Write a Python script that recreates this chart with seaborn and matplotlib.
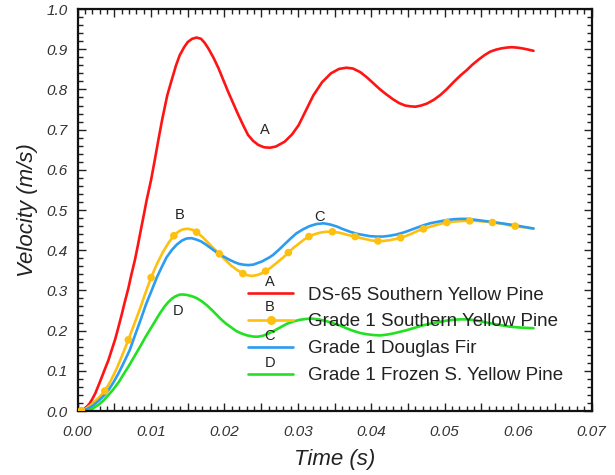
import numpy as np
import pandas as pd
import matplotlib
matplotlib.use("Agg")
import matplotlib.pyplot as plt
from matplotlib.ticker import MultipleLocator, FuncFormatter
from matplotlib.lines import Line2D
import seaborn as sns

# ---------------- data ----------------
t_a = [0.0000, 0.0004, 0.0008, 0.0012, 0.0016, 0.0020, 0.0024, 0.0028, 0.0033, 0.0037,
       0.0042, 0.0046, 0.0051, 0.0055, 0.0060, 0.0064, 0.0069, 0.0073, 0.0078, 0.0082,
       0.0086, 0.0090, 0.0094, 0.0100, 0.0105, 0.0110, 0.0115, 0.0122, 0.0128, 0.0134,
       0.0139, 0.0145, 0.0150, 0.0156, 0.0162, 0.0168, 0.0173, 0.0178, 0.0185, 0.0192,
       0.0205, 0.0219, 0.0226, 0.0232, 0.0239, 0.0246, 0.0254, 0.0262, 0.0270, 0.0282,
       0.0292, 0.0301, 0.0311, 0.0321, 0.0333, 0.0345, 0.0356, 0.0366, 0.0375, 0.0385,
       0.0394, 0.0403, 0.0412, 0.0421, 0.0430, 0.0438, 0.0446, 0.0453, 0.0460, 0.0468,
       0.0476, 0.0485, 0.0494, 0.0503, 0.0512, 0.0521, 0.0530, 0.0538, 0.0546, 0.0554,
       0.0562, 0.0570, 0.0577, 0.0584, 0.0591, 0.0599, 0.0606, 0.0614, 0.0621]
v_a = [0.000, 0.001, 0.004, 0.010, 0.018, 0.030, 0.044, 0.062, 0.085, 0.104,
       0.127, 0.150, 0.178, 0.205, 0.240, 0.270, 0.305, 0.338, 0.376, 0.412,
       0.450, 0.487, 0.525, 0.575, 0.624, 0.675, 0.724, 0.785, 0.823, 0.860,
       0.885, 0.905, 0.918, 0.926, 0.929, 0.926, 0.916, 0.902, 0.879, 0.852,
       0.794, 0.736, 0.709, 0.687, 0.672, 0.662, 0.656, 0.655, 0.658, 0.670,
       0.688, 0.711, 0.748, 0.785, 0.818, 0.840, 0.851, 0.854, 0.852, 0.843,
       0.830, 0.815, 0.800, 0.787, 0.775, 0.766, 0.760, 0.758, 0.757, 0.760,
       0.765, 0.774, 0.786, 0.801, 0.818, 0.834, 0.848, 0.862, 0.874, 0.885,
       0.894, 0.899, 0.902, 0.904, 0.905, 0.904, 0.902, 0.899, 0.896]

t_b = [0.0000, 0.0005, 0.0012, 0.0020, 0.0028, 0.0037, 0.0045, 0.0053, 0.0061, 0.0069,
       0.0077, 0.0085, 0.0092, 0.0100, 0.0108, 0.0116, 0.0124, 0.0131, 0.0137, 0.0142,
       0.0147, 0.0151, 0.0156, 0.0162, 0.0170, 0.0177, 0.0185, 0.0193, 0.0201, 0.0209,
       0.0217, 0.0225, 0.0231, 0.0237, 0.0244, 0.0250, 0.0256, 0.0264, 0.0272, 0.0280,
       0.0287, 0.0294, 0.0301, 0.0308, 0.0315, 0.0323, 0.0331, 0.0339, 0.0347, 0.0355,
       0.0362, 0.0370, 0.0378, 0.0386, 0.0394, 0.0401, 0.0409, 0.0417, 0.0425, 0.0433,
       0.0440, 0.0448, 0.0456, 0.0463, 0.0471, 0.0479, 0.0487, 0.0495, 0.0503, 0.0511,
       0.0519, 0.0527, 0.0534, 0.0542, 0.0550, 0.0558, 0.0565, 0.0573, 0.0581, 0.0588,
       0.0596, 0.0603, 0.0610, 0.0616, 0.0621]
v_b = [0.000, 0.001, 0.007, 0.018, 0.032, 0.050, 0.075, 0.105, 0.140, 0.177,
       0.216, 0.255, 0.292, 0.332, 0.366, 0.395, 0.419, 0.436, 0.446, 0.451,
       0.453, 0.453, 0.451, 0.445, 0.433, 0.420, 0.405, 0.391, 0.376, 0.362,
       0.351, 0.342, 0.338, 0.336, 0.338, 0.342, 0.348, 0.358, 0.370, 0.382,
       0.394, 0.406, 0.416, 0.426, 0.434, 0.440, 0.444, 0.446, 0.446, 0.444,
       0.441, 0.437, 0.434, 0.430, 0.427, 0.424, 0.423, 0.423, 0.425, 0.428,
       0.431, 0.436, 0.442, 0.448, 0.453, 0.458, 0.462, 0.466, 0.469, 0.471,
       0.472, 0.473, 0.473, 0.473, 0.472, 0.471, 0.469, 0.467, 0.465, 0.462,
       0.460, 0.458, 0.457, 0.455, 0.454]
t_b_mark = [0.0005, 0.0037, 0.0069, 0.0100, 0.0131, 0.0162, 0.0193, 0.0225, 0.0256, 0.0287,
            0.0315, 0.0347, 0.0378, 0.0409, 0.0440, 0.0471, 0.0503, 0.0534, 0.0565, 0.0596]
v_b_mark = [0.001, 0.050, 0.177, 0.332, 0.436, 0.445, 0.391, 0.342, 0.348, 0.394,
            0.434, 0.446, 0.434, 0.423, 0.431, 0.453, 0.469, 0.473, 0.469, 0.460]

t_c = [0.0006, 0.0013, 0.0020, 0.0030, 0.0036, 0.0042, 0.0049, 0.0056, 0.0063, 0.0071,
       0.0078, 0.0086, 0.0093, 0.0101, 0.0108, 0.0115, 0.0121, 0.0128, 0.0135, 0.0142,
       0.0148, 0.0155, 0.0161, 0.0168, 0.0174, 0.0180, 0.0186, 0.0192, 0.0200, 0.0207,
       0.0214, 0.0220, 0.0226, 0.0232, 0.0239, 0.0245, 0.0251, 0.0256, 0.0261, 0.0266,
       0.0274, 0.0282, 0.0290, 0.0298, 0.0307, 0.0316, 0.0325, 0.0335, 0.0344, 0.0353,
       0.0362, 0.0371, 0.0380, 0.0389, 0.0398, 0.0407, 0.0416, 0.0425, 0.0434, 0.0444,
       0.0453, 0.0462, 0.0471, 0.0480, 0.0491, 0.0503, 0.0512, 0.0521, 0.0530, 0.0540,
       0.0553, 0.0566, 0.0581, 0.0596, 0.0608, 0.0621]
v_c = [0.000, 0.005, 0.012, 0.028, 0.039, 0.052, 0.072, 0.095, 0.121, 0.152,
       0.188, 0.228, 0.265, 0.301, 0.333, 0.360, 0.382, 0.400, 0.414, 0.424,
       0.429, 0.430, 0.427, 0.422, 0.415, 0.407, 0.399, 0.391, 0.383, 0.376,
       0.370, 0.366, 0.364, 0.363, 0.364, 0.368, 0.372, 0.377, 0.382, 0.388,
       0.401, 0.415, 0.429, 0.442, 0.452, 0.460, 0.465, 0.467, 0.464, 0.459,
       0.452, 0.446, 0.441, 0.438, 0.435, 0.434, 0.434, 0.436, 0.439, 0.444,
       0.450, 0.456, 0.462, 0.467, 0.471, 0.475, 0.477, 0.478, 0.478, 0.476,
       0.473, 0.470, 0.466, 0.462, 0.458, 0.454]

t_d = [0.0014, 0.0021, 0.0028, 0.0035, 0.0042, 0.0049, 0.0056, 0.0062, 0.0069, 0.0077,
       0.0085, 0.0093, 0.0101, 0.0107, 0.0112, 0.0118, 0.0123, 0.0128, 0.0133, 0.0138,
       0.0142, 0.0148, 0.0155, 0.0162, 0.0169, 0.0176, 0.0183, 0.0190, 0.0196, 0.0203,
       0.0210, 0.0216, 0.0223, 0.0231, 0.0240, 0.0246, 0.0252, 0.0259, 0.0266, 0.0276,
       0.0285, 0.0294, 0.0303, 0.0311, 0.0318, 0.0328, 0.0338, 0.0347, 0.0357, 0.0366,
       0.0376, 0.0385, 0.0394, 0.0403, 0.0412, 0.0421, 0.0430, 0.0439, 0.0448, 0.0459,
       0.0470, 0.0482, 0.0494, 0.0503, 0.0512, 0.0521, 0.0530, 0.0541, 0.0552, 0.0563,
       0.0575, 0.0588, 0.0600, 0.0610, 0.0621]
v_d = [0.000, 0.007, 0.015, 0.026, 0.040, 0.055, 0.072, 0.090, 0.110, 0.135,
       0.160, 0.186, 0.210, 0.228, 0.243, 0.259, 0.270, 0.279, 0.285, 0.289,
       0.290, 0.289, 0.286, 0.281, 0.273, 0.263, 0.251, 0.238, 0.227, 0.216,
       0.207, 0.199, 0.193, 0.188, 0.185, 0.185, 0.187, 0.192, 0.198, 0.208,
       0.217, 0.223, 0.227, 0.229, 0.230, 0.228, 0.224, 0.219, 0.213, 0.206,
       0.199, 0.194, 0.191, 0.189, 0.188, 0.190, 0.193, 0.197, 0.201, 0.207,
       0.213, 0.218, 0.222, 0.225, 0.227, 0.228, 0.228, 0.226, 0.222, 0.218,
       0.214, 0.210, 0.208, 0.207, 0.206]

labels = ["DS-65 Southern Yellow Pine", "Grade 1 Southern Yellow Pine",
          "Grade 1 Douglas Fir", "Grade 1 Frozen S. Yellow Pine"]
letters = ["A", "B", "C", "D"]
colors = ["#ff1414", "#fdc010", "#2b9cf2", "#22e022"]

# curve annotation positions (t, v)
ann_pos = [(0.0255, 0.699), (0.0139, 0.488), (0.0330, 0.483), (0.0137, 0.249)]

# ---------------- plot ----------------
sns.set_style("white")
plt.rcParams['font.family'] = ['Liberation Sans', 'DejaVu Sans']

fig = plt.figure(figsize=(6.15, 4.75), dpi=100)
ax = fig.add_axes([0.1263, 0.1347, 0.8355, 0.8463])

lw = 1.9
series = [(t_a, v_a), (t_b, v_b), (t_c, v_c), (t_d, v_d)]
for (tt, vv), col in zip(series, colors):
    df = pd.DataFrame({"t": tt, "v": vv})
    sns.lineplot(data=df, x="t", y="v", color=col, lw=lw, sort=False, ax=ax,
                 estimator=None, legend=False)
    ax.lines[-1].set_solid_joinstyle("round")
dm = pd.DataFrame({"t": t_b_mark, "v": v_b_mark})
sns.scatterplot(data=dm, x="t", y="v", color=colors[1], s=30, edgecolor="none",
                ax=ax, legend=False, zorder=5)

for letter, (tx, vy) in zip(letters, ann_pos):
    ax.text(tx, vy, letter, fontsize=10.5, color="#222222", ha="center", va="center")

ax.set_xlim(0, 0.07)
ax.set_ylim(0, 1.0)
ax.xaxis.set_major_locator(MultipleLocator(0.005))
ax.xaxis.set_minor_locator(MultipleLocator(0.001))
ax.yaxis.set_major_locator(MultipleLocator(0.1))
ax.yaxis.set_minor_locator(MultipleLocator(0.02))

def xfmt(val, pos):
    k = int(round(val / 0.005))
    return f"{val:.2f}" if k % 2 == 0 else ""
ax.xaxis.set_major_formatter(FuncFormatter(xfmt))
ax.yaxis.set_major_formatter(FuncFormatter(lambda v, p: f"{v:.1f}"))

ax.tick_params(which="both", direction="in", top=True, right=True, bottom=True,
               left=True, color="#222222", width=1.0)
ax.tick_params(which="major", length=6)
ax.tick_params(which="minor", length=3.5)
ax.tick_params(axis="x", which="major", pad=10, labelsize=11, labelcolor="#333333")
ax.tick_params(axis="y", which="major", pad=7, labelsize=11, labelcolor="#333333")
for lab in ax.get_xticklabels() + ax.get_yticklabels():
    lab.set_fontstyle("italic")

for sp in ax.spines.values():
    sp.set_visible(True)
    sp.set_color("#111111")
    sp.set_linewidth(1.6)

ax.set_xlabel("Time (s)", fontsize=16, fontstyle="italic", color="#222222", labelpad=7)
ax.set_ylabel("Velocity (m/s)", fontsize=16, fontstyle="italic", color="#222222", labelpad=6)

handles = [Line2D([], [], color=colors[0], lw=lw),
           Line2D([], [], color=colors[1], lw=lw, marker="o", markersize=5.5),
           Line2D([], [], color=colors[2], lw=lw),
           Line2D([], [], color=colors[3], lw=lw)]
leg = ax.legend(handles, labels, loc="upper left", bbox_to_anchor=(0.332, 0.310),
                frameon=False, fontsize=13.5, handlelength=2.4, handletextpad=0.8,
                labelspacing=0.52, borderpad=0, borderaxespad=0, numpoints=1)
for txt in leg.get_texts():
    txt.set_color("#222222")

# letters above legend handles
leg_letter_y = [0.321, 0.259, 0.187, 0.120]
for letter, ly in zip(letters, leg_letter_y):
    ax.text(0.374, ly, letter, fontsize=10.5, color="#222222", ha="center",
            va="center", transform=ax.transAxes)

fig.savefig("out.png", dpi=100)
